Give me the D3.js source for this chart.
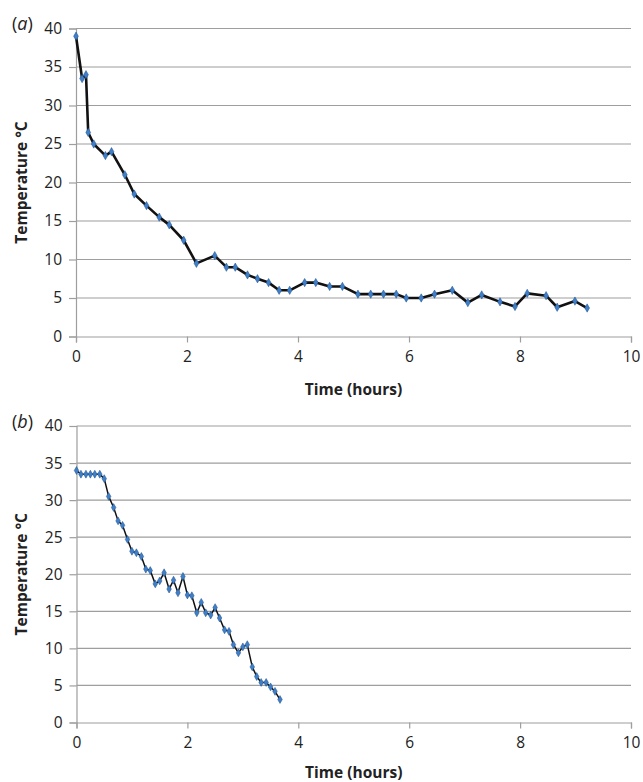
<!DOCTYPE html>
<html>
<head>
<meta charset="utf-8">
<script src="https://cdn.jsdelivr.net/npm/d3@7"></script>
<style>
  body { margin: 0; background: #fff; }
  svg text { font-family: "Open Sans", "DejaVu Sans", sans-serif; fill: #222; }
</style>
</head>
<body>
<svg id="chart" width="643" height="782"></svg>
<script>
// Panel (a)
const timeA = [0, 0.11, 0.18, 0.22, 0.32, 0.53, 0.64, 0.88, 1.05, 1.27, 1.50, 1.68, 1.94, 2.17, 2.50, 2.71, 2.87, 3.09, 3.27, 3.47, 3.66, 3.85, 4.12, 4.32, 4.57, 4.80, 5.08, 5.31, 5.54, 5.77, 5.95, 6.22, 6.46, 6.78, 7.06, 7.31, 7.64, 7.91, 8.13, 8.47, 8.67, 8.99, 9.21];
const tempA = [39.0, 33.5, 34.0, 26.5, 25.0, 23.5, 24.0, 21.0, 18.5, 17.0, 15.5, 14.5, 12.5, 9.5, 10.5, 9.0, 9.0, 8.0, 7.5, 7.0, 6.0, 6.0, 7.0, 7.0, 6.5, 6.5, 5.5, 5.5, 5.5, 5.5, 5.0, 5.0, 5.5, 6.0, 4.4, 5.4, 4.5, 3.9, 5.6, 5.3, 3.8, 4.6, 3.7];

// Panel (b)
const timeB = [0, 0.08, 0.17, 0.25, 0.33, 0.42, 0.50, 0.58, 0.67, 0.75, 0.83, 0.92, 1.00, 1.08, 1.17, 1.25, 1.33, 1.42, 1.50, 1.58, 1.67, 1.75, 1.83, 1.92, 2.00, 2.08, 2.17, 2.25, 2.33, 2.42, 2.50, 2.58, 2.67, 2.75, 2.83, 2.92, 3.00, 3.08, 3.17, 3.25, 3.33, 3.42, 3.50, 3.58, 3.67];
const tempB = [34.0, 33.5, 33.5, 33.5, 33.5, 33.5, 32.9, 30.5, 29.0, 27.2, 26.6, 24.7, 23.1, 22.9, 22.4, 20.7, 20.5, 18.7, 19.1, 20.2, 18.0, 19.2, 17.5, 19.7, 17.2, 17.1, 14.8, 16.2, 14.8, 14.5, 15.5, 14.1, 12.5, 12.3, 10.5, 9.4, 10.2, 10.5, 7.5, 6.2, 5.4, 5.4, 4.8, 4.2, 3.1];

const xTicks = [0, 2, 4, 6, 8, 10];
const yTicks = [0, 5, 10, 15, 20, 25, 30, 35, 40];
const xTitle = "Time (hours)";
const yTitle = "Temperature °C";

const svg = d3.select("#chart");

function panel(cfg) {
  const x = d3.scaleLinear().domain([0, 10]).range([cfg.left, cfg.right]);
  const y = d3.scaleLinear().domain([0, 40]).range([cfg.bottom, cfg.top]);
  const g = svg.append("g");

  // gridlines
  g.selectAll("line.grid").data(yTicks.filter(v => v > 0)).enter().append("line")
    .attr("x1", cfg.left).attr("x2", cfg.right)
    .attr("y1", d => y(d)).attr("y2", d => y(d))
    .attr("stroke", "#9e9e9e").attr("stroke-width", 1.2);

  // x axis
  const xAxis = d3.axisBottom(x).tickValues(xTicks).tickSize(6).tickPadding(8);
  const gx = g.append("g").attr("transform", `translate(0,${cfg.bottom})`).call(xAxis);
  gx.select(".domain").attr("stroke", "#9e9e9e").attr("stroke-width", 1.2);
  gx.selectAll(".tick line").attr("stroke", "#9e9e9e").attr("stroke-width", 1.2);
  gx.selectAll(".tick text").attr("font-size", 15.5).attr("fill", "#222")
    .style("font-family", '"Open Sans", sans-serif');

  // y axis
  const yAxis = d3.axisLeft(y).tickValues(yTicks).tickSize(7).tickPadding(7);
  const gy = g.append("g").attr("transform", `translate(${cfg.left},0)`).call(yAxis);
  gy.select(".domain").attr("stroke", "#9e9e9e").attr("stroke-width", 1.2);
  gy.selectAll(".tick line").attr("stroke", "#9e9e9e").attr("stroke-width", 1.2);
  gy.selectAll(".tick text").attr("font-size", 15.5).attr("fill", "#222")
    .style("font-family", '"Open Sans", sans-serif');

  // titles
  g.append("text").attr("x", (cfg.left + cfg.right) / 2).attr("y", cfg.xTitleY)
    .attr("text-anchor", "middle").attr("font-size", 15.5).attr("font-weight", "bold")
    .text(xTitle);
  g.append("text")
    .attr("transform", `translate(27,${(cfg.top + cfg.bottom) / 2}) rotate(-90)`)
    .attr("text-anchor", "middle").attr("font-size", 15.5).attr("font-weight", "bold")
    .text(yTitle);

  // panel label
  const lab = g.append("text").attr("x", 12).attr("y", cfg.top + 1.5).attr("font-size", 18);
  lab.append("tspan").text("(");
  lab.append("tspan").attr("font-style", "italic").text(cfg.label);
  lab.append("tspan").text(")");

  const data = cfg.t.map((t, i) => [t, cfg.v[i]]);
  const line = d3.line().x(d => x(d[0])).y(d => y(d[1]));
  g.append("path").datum(data).attr("d", line)
    .attr("fill", "none").attr("stroke", "#111").attr("stroke-width", cfg.lw)
    .attr("stroke-linejoin", "round");

  const sym = d3.symbol().type(d3.symbolDiamond).size(cfg.ms);
  g.selectAll("path.pt").data(data).enter().append("path")
    .attr("class", "pt")
    .attr("transform", d => `translate(${x(d[0])},${y(d[1])})`)
    .attr("d", sym)
    .attr("fill", "#3f7fc8").attr("stroke", "#1f4f8a").attr("stroke-width", 0.5);
}

panel({ left: 76, right: 631, top: 28.5, bottom: 336.5, xTitleY: 395, label: "a",
        t: timeA, v: tempA, lw: 2.6, ms: 20 });
panel({ left: 76.5, right: 631, top: 426, bottom: 722.5, xTitleY: 778, label: "b",
        t: timeB, v: tempB, lw: 1.5, ms: 18 });
</script>
</body>
</html>
